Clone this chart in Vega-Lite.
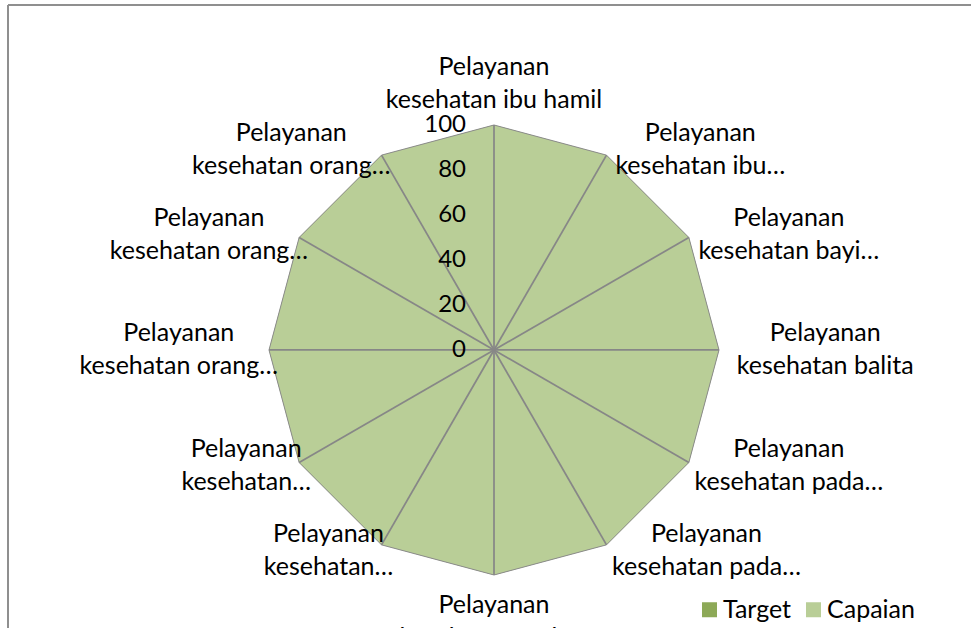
{
  "$schema": "https://vega.github.io/schema/vega-lite/v6.json",
  "width": 963,
  "height": 623,
  "autosize": {"type": "none"},
  "padding": {"left": 8, "top": 5, "right": 0, "bottom": 0},
  "background": "white",
  "config": {"view": {"stroke": null}, "font": "Lato"},
  "datasets": {
    "spm": [
      {"kategori": "Pelayanan kesehatan ibu hamil", "label": "Pelayanan kesehatan ibu hamil", "Target": 100, "Capaian": 100},
      {"kategori": "Pelayanan kesehatan ibu bersalin", "label": "Pelayanan kesehatan ibu…", "Target": 100, "Capaian": 100},
      {"kategori": "Pelayanan kesehatan bayi baru lahir", "label": "Pelayanan kesehatan bayi…", "Target": 100, "Capaian": 100},
      {"kategori": "Pelayanan kesehatan balita", "label": "Pelayanan kesehatan balita", "Target": 100, "Capaian": 100},
      {"kategori": "Pelayanan kesehatan pada usia pendidikan dasar", "label": "Pelayanan kesehatan pada…", "Target": 100, "Capaian": 100},
      {"kategori": "Pelayanan kesehatan pada usia produktif", "label": "Pelayanan kesehatan pada…", "Target": 100, "Capaian": 100},
      {"kategori": "Pelayanan kesehatan pada usia lanjut", "label": "Pelayanan kesehatan pada…", "Target": 100, "Capaian": 100},
      {"kategori": "Pelayanan kesehatan penderita hipertensi", "label": "Pelayanan kesehatan…", "Target": 100, "Capaian": 100},
      {"kategori": "Pelayanan kesehatan penderita diabetes melitus", "label": "Pelayanan kesehatan…", "Target": 100, "Capaian": 100},
      {"kategori": "Pelayanan kesehatan orang dengan gangguan jiwa berat", "label": "Pelayanan kesehatan orang…", "Target": 100, "Capaian": 100},
      {"kategori": "Pelayanan kesehatan orang terduga tuberkulosis", "label": "Pelayanan kesehatan orang…", "Target": 100, "Capaian": 100},
      {"kategori": "Pelayanan kesehatan orang dengan risiko terinfeksi HIV", "label": "Pelayanan kesehatan orang…", "Target": 100, "Capaian": 100}
    ],
    "skala": [
      {"nilai": 0}, {"nilai": 20}, {"nilai": 40}, {"nilai": 60}, {"nilai": 80}, {"nilai": 100}
    ]
  },
  "layer": [
    {
      "data": {"name": "spm"},
      "transform": [
        {"window": [{"op": "row_number", "as": "no"}]},
        {"calculate": "(datum.no - 1) * PI / 6", "as": "sudut"},
        {"fold": ["Target", "Capaian"], "as": ["seri", "nilai"]},
        {"filter": "datum.seri === 'Target'"},
        {"calculate": "datum.nilai * sin(datum.sudut)", "as": "px"},
        {"calculate": "datum.nilai * cos(datum.sudut)", "as": "py"}
      ],
      "mark": {"type": "line", "filled": true, "interpolate": "linear-closed", "strokeWidth": 0},
      "encoding": {
        "x": {"field": "px", "type": "quantitative", "scale": {"domain": [-216, 212], "nice": false, "zero": false}, "axis": null},
        "y": {"field": "py", "type": "quantitative", "scale": {"domain": [-123.56, 153.33], "nice": false, "zero": false}, "axis": null},
        "order": {"field": "no"},
        "color": {
          "field": "seri", "type": "nominal",
          "scale": {"domain": ["Target", "Capaian"], "range": ["#8DA957", "#B9CE97"]},
          "legend": {
            "orient": "none", "direction": "horizontal", "title": null,
            "legendX": 689, "legendY": 592,
            "symbolType": "square", "symbolSize": 225, "symbolStrokeWidth": 0,
            "labelFontSize": 25, "labelFont": "Lato", "labelColor": "#000000",
            "labelOffset": 1, "columnPadding": 9, "padding": 0
          }
        }
      }
    },
    {
      "data": {"name": "spm"},
      "transform": [
        {"window": [{"op": "row_number", "as": "no"}]},
        {"calculate": "(datum.no - 1) * PI / 6", "as": "sudut"},
        {"fold": ["Target", "Capaian"], "as": ["seri", "nilai"]},
        {"filter": "datum.seri === 'Capaian'"},
        {"calculate": "datum.nilai * sin(datum.sudut)", "as": "px"},
        {"calculate": "datum.nilai * cos(datum.sudut)", "as": "py"}
      ],
      "mark": {"type": "line", "filled": true, "interpolate": "linear-closed", "stroke": "#8C8C8C", "strokeWidth": 1},
      "encoding": {
        "x": {"field": "px", "type": "quantitative", "scale": {"domain": [-216, 212], "nice": false, "zero": false}, "axis": null},
        "y": {"field": "py", "type": "quantitative", "scale": {"domain": [-123.56, 153.33], "nice": false, "zero": false}, "axis": null},
        "order": {"field": "no"},
        "color": {"field": "seri", "type": "nominal", "scale": {"domain": ["Target", "Capaian"], "range": ["#8DA957", "#B9CE97"]}}
      }
    },
    {
      "data": {"name": "spm"},
      "transform": [
        {"window": [{"op": "row_number", "as": "no"}]},
        {"calculate": "(datum.no - 1) * PI / 6", "as": "sudut"},
        {"calculate": "100 * sin(datum.sudut)", "as": "px"},
        {"calculate": "100 * cos(datum.sudut)", "as": "py"}
      ],
      "mark": {"type": "rule", "color": "#878787", "strokeWidth": 1.75},
      "encoding": {
        "x": {"field": "px", "type": "quantitative", "scale": {"domain": [-216, 212], "nice": false, "zero": false}, "axis": null},
        "y": {"field": "py", "type": "quantitative", "scale": {"domain": [-123.56, 153.33], "nice": false, "zero": false}, "axis": null},
        "x2": {"datum": 0},
        "y2": {"datum": 0}
      }
    },
    {
      "data": {"name": "skala"},
      "mark": {"type": "text", "align": "right", "baseline": "middle", "dx": -28, "fontSize": 24, "font": "Lato", "color": "#000000"},
      "encoding": {
        "x": {"datum": 0, "type": "quantitative", "scale": {"domain": [-216, 212], "nice": false, "zero": false}, "axis": null},
        "y": {"field": "nilai", "type": "quantitative", "scale": {"domain": [-123.56, 153.33], "nice": false, "zero": false}, "axis": null},
        "text": {"field": "nilai", "type": "quantitative"}
      }
    },
    {
      "data": {"name": "spm"},
      "transform": [
        {"window": [{"op": "row_number", "as": "no"}]},
        {"calculate": "(datum.no - 1) * PI / 6", "as": "sudut"},
        {"calculate": "replace(datum.label, 'Pelayanan ', 'Pelayanan\\n')", "as": "teks"},
        {"calculate": "(length(datum.label) - 10) * 12.4", "as": "lebar"},
        {"calculate": "abs(sin(datum.sudut)) < 0.1 ? 0 : (sin(datum.sudut) > 0 ? 100 * sin(datum.sudut) + (7 + datum.lebar / 2) / 2.25 : 100 * sin(datum.sudut) + (9 - datum.lebar / 2) / 2.25)", "as": "lx"},
        {"calculate": "abs(sin(datum.sudut)) < 0.1 ? (cos(datum.sudut) > 0 ? 100 + 41 / 2.25 : -100 - 47 / 2.25) : 103 * cos(datum.sudut)", "as": "ly"}
      ],
      "mark": {"type": "text", "align": "center", "baseline": "middle", "lineBreak": "\n", "lineHeight": 33, "dy": -16.5, "fontSize": 25, "font": "Lato", "color": "#000000"},
      "encoding": {
        "x": {"field": "lx", "type": "quantitative", "scale": {"domain": [-216, 212], "nice": false, "zero": false}, "axis": null},
        "y": {"field": "ly", "type": "quantitative", "scale": {"domain": [-123.56, 153.33], "nice": false, "zero": false}, "axis": null},
        "text": {"field": "teks"}
      }
    },
    {
      "data": {"values": [{}]},
      "mark": {"type": "rule", "color": "#8F8F8F", "strokeWidth": 2},
      "encoding": {
        "y": {"datum": 153.33, "type": "quantitative", "scale": {"domain": [-123.56, 153.33], "nice": false, "zero": false}, "axis": null}
      }
    },
    {
      "data": {"values": [{}]},
      "mark": {"type": "rule", "color": "#8F8F8F", "strokeWidth": 2},
      "encoding": {
        "x": {"datum": -216, "type": "quantitative", "scale": {"domain": [-216, 212], "nice": false, "zero": false}, "axis": null}
      }
    }
  ]
}
